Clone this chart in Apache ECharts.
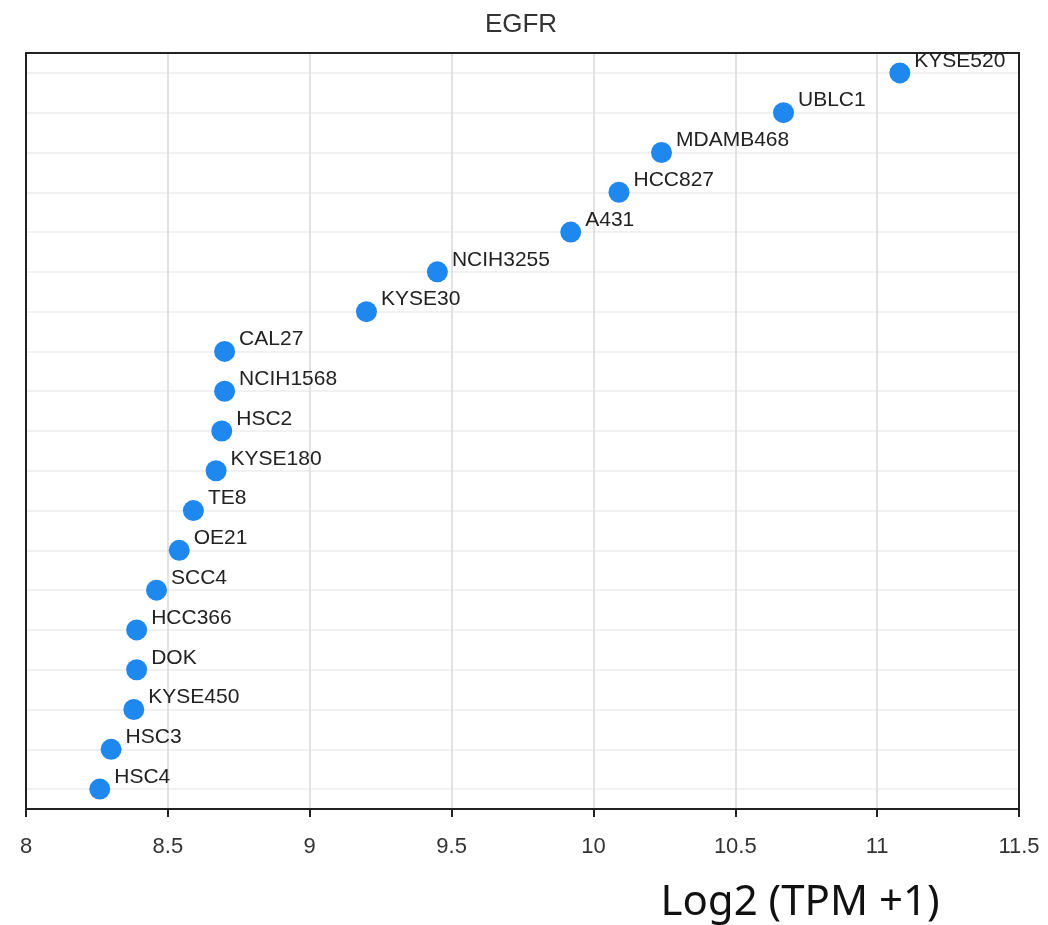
<!DOCTYPE html>
<html>
<head>
<meta charset="utf-8">
<title>EGFR</title>
<script src="https://cdn.jsdelivr.net/npm/echarts@6/dist/echarts.min.js"></script>
<style>
  html, body { margin: 0; padding: 0; background: #fff; }
  #chart { width: 1048px; height: 925px; }
</style>
</head>
<body>
<div id="chart"></div>
<script>
// Cell lines, ordered top to bottom
const cellLines = [
  'KYSE520', 'UBLC1', 'MDAMB468', 'HCC827', 'A431', 'NCIH3255', 'KYSE30',
  'CAL27', 'NCIH1568', 'HSC2', 'KYSE180', 'TE8', 'OE21', 'SCC4',
  'HCC366', 'DOK', 'KYSE450', 'HSC3', 'HSC4'
];
// EGFR expression, Log2 (TPM + 1)
const expression = [
  11.08, 10.67, 10.24, 10.09, 9.92, 9.45, 9.20,
  8.70, 8.70, 8.69, 8.67, 8.59, 8.54, 8.46,
  8.39, 8.39, 8.38, 8.30, 8.26
];
const xTicks = { min: 8, max: 11.5, interval: 0.5 };

const chart = echarts.init(document.getElementById('chart'), null, { renderer: 'canvas' });

chart.setOption({
  animation: false,
  graphic: [
    {
      type: 'text', x: 521, y: 25, z: 10,
      style: {
        text: 'EGFR', textAlign: 'center', textVerticalAlign: 'middle',
        font: 'normal 26px "Liberation Sans"', fill: '#333'
      }
    },
    {
      type: 'text', x: 800, y: 903, z: 10,
      style: {
        text: 'Log2 (TPM +1)', textAlign: 'center', textVerticalAlign: 'middle',
        font: 'normal 42px "Noto Sans"', fill: '#111'
      }
    }
  ],
  grid: {
    left: 26, right: 29, top: 53, bottom: 116,
    show: true, borderColor: '#222', borderWidth: 2, backgroundColor: '#fff'
  },
  xAxis: [
    {
      type: 'value',
      position: 'bottom',
      min: xTicks.min, max: xTicks.max, interval: xTicks.interval,
      axisLine: { show: true, lineStyle: { color: '#222', width: 2 } },
      axisTick: { show: true, length: 8, lineStyle: { color: '#222', width: 2 } },
      axisLabel: {
        margin: 27, color: '#333', fontFamily: 'Liberation Sans', fontSize: 22,
        formatter: v => String(+v.toFixed(1))
      },
      splitLine: { show: true, lineStyle: { color: '#d8d8d8', width: 1.5 } }
    },
    {
      // top frame edge
      type: 'value',
      position: 'top',
      min: xTicks.min, max: xTicks.max, interval: xTicks.interval,
      axisLine: { show: true, lineStyle: { color: '#222', width: 2 } },
      axisTick: { show: false },
      axisLabel: { show: false },
      splitLine: { show: false }
    }
  ],
  yAxis: [
    {
      type: 'category',
      data: cellLines,
      inverse: true,
      position: 'left',
      axisLine: { show: true, lineStyle: { color: '#222', width: 2 } },
      axisTick: { show: false },
      axisLabel: { show: false },
      splitLine: { show: true, alignWithLabel: true, lineStyle: { color: '#ececec', width: 1.5 } }
    },
    {
      // right frame edge
      type: 'category',
      data: cellLines,
      inverse: true,
      position: 'right',
      axisLine: { show: true, lineStyle: { color: '#222', width: 2 } },
      axisTick: { show: false },
      axisLabel: { show: false },
      splitLine: { show: false }
    }
  ],
  series: [{
    type: 'scatter',
    xAxisIndex: 0,
    yAxisIndex: 0,
    data: expression.map((v, i) => [v, cellLines[i]]),
    symbolSize: 21,
    itemStyle: { color: '#1E88EE', opacity: 1 },
    label: {
      show: true,
      position: 'right',
      offset: [-1, -12],
      formatter: p => p.value[1],
      fontFamily: 'Liberation Sans',
      fontSize: 21,
      color: '#222'
    },
    z: 5
  }]
});
</script>
</body>
</html>
